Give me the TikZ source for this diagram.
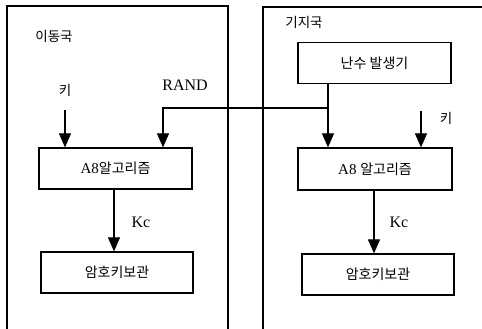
\documentclass[tikz,border=0pt]{standalone}
\usepackage{fontspec}
\setmainfont{Liberation Serif}
\newfontfamily\kr{Noto Sans CJK KR}
\usetikzlibrary{arrows.meta}
\begin{document}
\begin{tikzpicture}[x=1pt,y=-1pt,
  box/.style={draw,line width=1.2pt,minimum width=153pt,minimum height=41pt,inner sep=0pt,font=\fontsize{15}{17}\selectfont},
  lbl/.style={inner sep=0pt,font=\fontsize{16}{18}\selectfont},
  klbl/.style={inner sep=0pt,font=\kr\fontsize{13.5}{15}\selectfont},
  arr/.style={line width=1.1pt,-{Triangle[width=12pt,length=14pt]}},
  ln/.style={line width=1.1pt},
  frame/.style={line width=1.2pt}]
\useasboundingbox (0,0) rectangle (482,329);
% outer frames
\coordinate (fl1) at (7,329);
\coordinate (fl2) at (7,6);
\coordinate (fl3) at (228,6);
\coordinate (fl4) at (228,329);
\draw[frame] (fl1) -- (fl2) -- (fl3) -- (fl4);
\coordinate (fr1) at (263,329);
\coordinate (fr2) at (263,7);
\coordinate (fr3) at (482,7);
\draw[frame] (fr1) -- (fr2) -- (fr3);
\node[klbl] (ms) at (54,36) {이동국};
\node[klbl] (bs) at (304,22) {기지국};
% left side
\node[box] (a8L) at (115.5,168.5) {A8{\kr\fontsize{14}{16}\selectfont 알고리즘}};
\node[box,minimum width=152pt] (stL) at (117,272.5) {\kr\fontsize{14}{16}\selectfont 암호키보관};
\node[klbl] (keyL) at (65,90) {키};
\coordinate (keyLs) at (65,110);
\node[lbl] (rand) at (185,85) {RAND};
\coordinate (randL) at (163,108);
\node[lbl] (kcL) at (141,222) {Kc};
% right side
\node[box] (rng) at (374.5,63) {\kr\fontsize{14}{16}\selectfont 난수\ 발생기};
\node[box,minimum width=154pt,minimum height=42pt] (a8R) at (375,169) {A8\ {\kr\fontsize{14}{16}\selectfont 알고리즘}};
\node[box,minimum width=152pt,minimum height=41pt] (stR) at (378,274.5) {\kr\fontsize{14}{16}\selectfont 암호키보관};
\coordinate (junc) at (328,108);
\node[klbl] (keyR) at (446,118) {키};
\coordinate (keyRs) at (421,111);
\node[lbl] (kcR) at (399,222) {Kc};
% connectors
\draw[arr] (keyLs) -- (keyLs |- a8L.north);
\draw[arr] (junc) -- (randL) -- (randL |- a8L.north);
\draw[ln] (junc |- rng.south) -- (junc);
\draw[arr] (junc) -- (junc |- a8R.north);
\draw[arr] (keyRs) -- (keyRs |- a8R.north);
\draw[arr] (a8L.south -| 114,0) -- (stL.north -| 114,0);
\draw[arr] (a8R.south -| 374,0) -- (stR.north -| 374,0);
\end{tikzpicture}
\end{document}
